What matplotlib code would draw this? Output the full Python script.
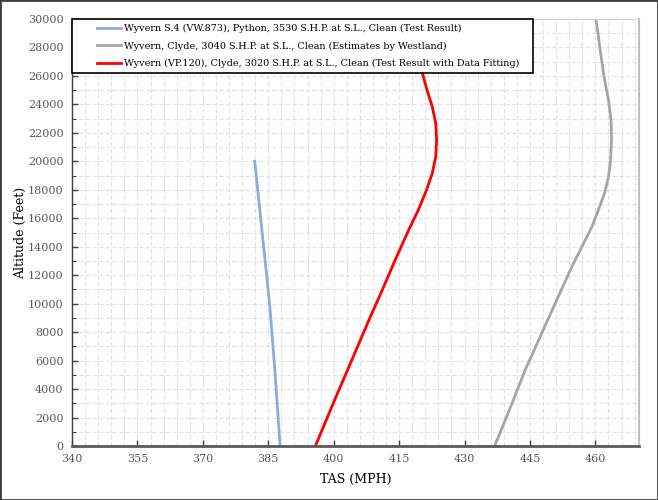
import numpy as np
import matplotlib.pyplot as plt
from matplotlib.ticker import FixedLocator
from matplotlib.patches import Rectangle
from matplotlib.legend_handler import HandlerLine2D

# Data
s4_tas = [387.7, 386.6, 385.3, 383.6, 381.9]
s4_alt = [0, 5000, 10000, 15000, 20000]

clyde_est_tas = [436.9, 440.9, 443.9, 447.7, 451.2, 454.6, 456.9, 459.2, 460.7, 462.1,
                 463.0, 463.5, 463.7, 463.6, 463.0, 462.5, 461.9, 461.5, 461.0, 460.6,
                 460.1]
clyde_est_alt = [0, 3000, 5340, 7920, 10300, 12600, 14000, 15400, 16600, 17750,
                 18900, 20100, 21500, 22900, 24300, 25100, 26100, 27000, 28000, 29000,
                 30000]

vp120_tas = [395.8, 399.9, 404.1, 408.3, 411.2, 414.1, 417.2, 419.4, 421.3, 422.6,
             423.4, 423.6, 423.4, 422.6, 421.4, 420.3, 419.5]
vp120_alt = [0, 3000, 6000, 9000, 11000, 13070, 15180, 16580, 18000, 19160,
             20330, 21500, 22670, 23840, 25010, 26230, 27200]

labels = [
    'Wyvern S.4 (VW.873), Python, 3530 S.H.P. at S.L., Clean (Test Result)',
    'Wyvern, Clyde, 3040 S.H.P. at S.L., Clean (Estimates by Westland)',
    'Wyvern (VP.120), Clyde, 3020 S.H.P. at S.L., Clean (Test Result with Data Fitting)',
]


class PaddedLine(HandlerLine2D):
    # leave some blank room left of the legend line, like the original
    def get_xdata(self, legend, xdescent, ydescent, width, height, fontsize):
        x0 = -xdescent + 0.45 * width
        x1 = -xdescent + width
        return np.array([x0, x1]), np.array([(x0 + x1) / 2])


plt.rcParams['font.family'] = ['DejaVu Serif']

fig = plt.figure(figsize=(6.58, 5.0), dpi=100)
ax = fig.add_axes([72 / 658, 54 / 500, 567 / 658, 427 / 500])

ax.plot(s4_tas, s4_alt, color='#8FAADC', lw=2, label=labels[0])
ax.plot(clyde_est_tas, clyde_est_alt, color='#A5A5A5', lw=2, label=labels[1])
ax.plot(vp120_tas, vp120_alt, color='#FF0000', lw=2, label=labels[2])

ax.set_xlim(340, 470)
ax.set_ylim(0, 30000)
ax.xaxis.set_major_locator(FixedLocator(np.arange(340, 461, 15)))
ax.xaxis.set_minor_locator(FixedLocator(np.arange(340, 471, 3)))
ax.yaxis.set_major_locator(FixedLocator(np.arange(0, 30001, 2000)))
ax.yaxis.set_minor_locator(FixedLocator(np.arange(0, 30001, 1000)))

ax.grid(which='both', color='#E3E3E3', ls=(0, (4, 2)), lw=0.8)
ax.set_axisbelow(True)

ax.tick_params(axis='both', which='major', direction='in', length=4, width=1,
               labelsize=8, labelcolor='#595959', color='#404040', pad=6)
ax.tick_params(axis='y', which='minor', direction='in', length=3, width=0.8, color='#404040')
ax.tick_params(axis='x', which='minor', length=0)

ax.spines['bottom'].set_color('#595959')
ax.spines['bottom'].set_linewidth(2)
ax.spines['left'].set_color('#404040')
ax.spines['left'].set_linewidth(1)
ax.spines['top'].set_color('#D0D0D0')
ax.spines['right'].set_color('#C0C0C0')
ax.spines['right'].set_linewidth(1.5)

ax.set_xlabel('TAS (MPH)', fontsize=9, labelpad=6)
ax.set_ylabel('Altitude (Feet)', fontsize=9, labelpad=1)

leg = ax.legend(loc='upper left', bbox_to_anchor=(0, 1, 461 / 567, 0), mode='expand',
                borderaxespad=0, fontsize=6.9, fancybox=False, framealpha=1,
                edgecolor='black', handlelength=4.6, handletextpad=0.25,
                labelspacing=0.85, borderpad=0.55,
                handler_map={plt.Line2D: PaddedLine()})
leg.get_frame().set_linewidth(1.2)
leg.set_zorder(5)

fig.patches.append(Rectangle((0, 0), 1, 1, transform=fig.transFigure, fill=False,
                             edgecolor='#404040', lw=2))

fig.savefig('out.png', dpi=100)
